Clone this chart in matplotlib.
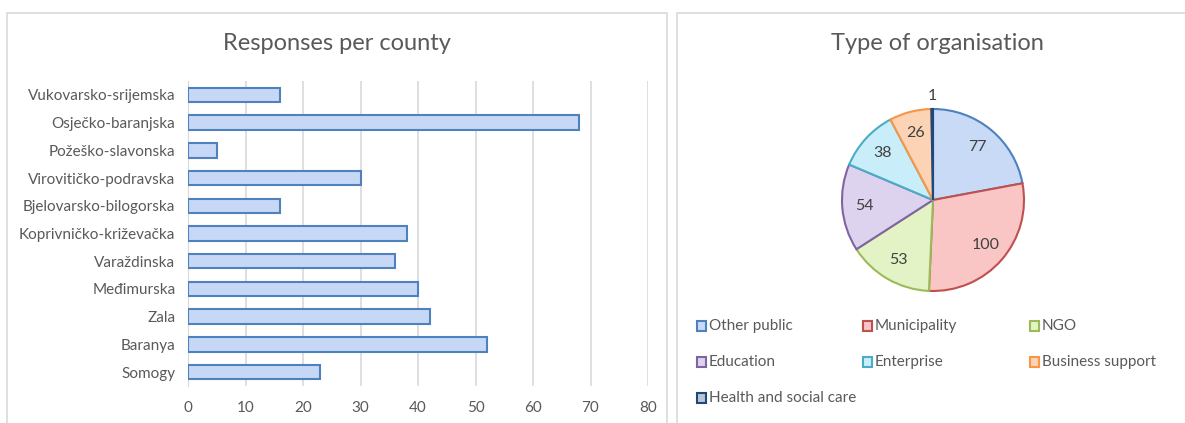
import matplotlib.pyplot as plt
from matplotlib.patches import Rectangle
import numpy as np

plt.rcParams['font.family'] = ['Lato', 'DejaVu Sans']

# Responses per county (top to bottom as shown)
counties = ["Vukovarsko-srijemska", "Osječko-baranjska", "Požeško-slavonska",
            "Virovitičko-podravska", "Bjelovarsko-bilogorska", "Koprivničko-križevačka",
            "Varaždinska", "Međimurska", "Zala", "Baranya", "Somogy"]
responses = [16, 68, 5, 30, 16, 38, 36, 40, 42, 52, 23]
x_ticks = [0, 10, 20, 30, 40, 50, 60, 70, 80]

# Type of organisation
org_types = ["Other public", "Municipality", "NGO", "Education",
             "Enterprise", "Business support", "Health and social care"]
org_counts = [77, 100, 53, 54, 38, 26, 1]
org_fill = ["#c9daf6", "#f9c6c5", "#e3f3c6", "#ddd3ee", "#c9eef9", "#fcd3b4", "#b9c6d8"]
org_edge = ["#4f81bd", "#c0504d", "#9bbb59", "#8064a2", "#4bacc6", "#f79646", "#1f497d"]

text_col = "#595959"
W, H = 1185, 423
fig = plt.figure(figsize=(W / 100, H / 100), dpi=100)

# panel frames
for x0, x1 in [(7, 667), (677, 1190)]:
    fig.add_artist(Rectangle((x0 / W, -0.05), (x1 - x0) / W, 1 - 13 / H + 0.05,
                             transform=fig.transFigure, fill=False,
                             edgecolor="#d9d9d9", linewidth=1.2))

# ---- bar chart ----
ax = fig.add_axes([188 / W, 1 - 386 / H, (648 - 188) / W, (386 - 81) / H])
ypos = list(range(len(counties)))[::-1]
ax.barh(ypos, responses, height=0.52, color="#c6d8f6", edgecolor="#4f81bd", linewidth=1.5, zorder=3)
ax.set_yticks(ypos)
ax.set_yticklabels(counties)
ax.set_xticks(x_ticks)
ax.set_xlim(0, 80)
ax.set_ylim(-0.5, len(counties) - 0.5)
ax.grid(axis="x", color="#d9d9d9", linewidth=1.2, zorder=0)
for s in ["top", "right", "bottom"]:
    ax.spines[s].set_visible(False)
ax.spines["left"].set_color("#d9d9d9")
ax.tick_params(axis="both", length=0, labelsize=11, labelcolor=text_col)
ax.tick_params(axis="y", pad=9)
ax.tick_params(axis="x", pad=11)
fig.text(337 / W, 1 - 44 / H, "Responses per county", ha="center", va="center",
         fontsize=17, color=text_col)

# ---- pie chart ----
cx, cy, r = 933, 200, 91
pax = fig.add_axes([(cx - 2 * r) / W, 1 - (cy + 2 * r) / H, 4 * r / W, 4 * r / H])
wedges, _ = pax.pie(org_counts, startangle=90, counterclock=False, colors=org_fill,
                    wedgeprops=dict(linewidth=1.5))
for w, ec in zip(wedges, org_edge):
    w.set_edgecolor(ec)
for w, n in zip(wedges, org_counts):
    ang = np.deg2rad((w.theta1 + w.theta2) / 2)
    d = 1.14 if n < 5 else 0.76
    pax.text(d * np.cos(ang), d * np.sin(ang), str(n), ha="center", va="center",
             fontsize=11.5, color="#404040")
pax.set_xlim(-2, 2)
pax.set_ylim(-2, 2)
pax.set_aspect("equal")
pax.axis("off")
fig.text(937 / W, 1 - 44 / H, "Type of organisation", ha="center", va="center",
         fontsize=17, color=text_col)

# legend laid out in rows of three
col_x = [697, 863, 1030]
row_y = [326, 362, 398]
for i, (lab, fc, ec) in enumerate(zip(org_types, org_fill, org_edge)):
    px, py = col_x[i % 3], row_y[i // 3]
    fig.add_artist(Rectangle((px / W, 1 - (py + 5) / H), 9 / W, 10 / H, transform=fig.transFigure,
                             facecolor=fc, edgecolor=ec, linewidth=1.5))
    fig.text((px + 12) / W, 1 - py / H, lab, ha="left", va="center", fontsize=11, color=text_col)

fig.savefig("out.png", dpi=100, facecolor="white")
